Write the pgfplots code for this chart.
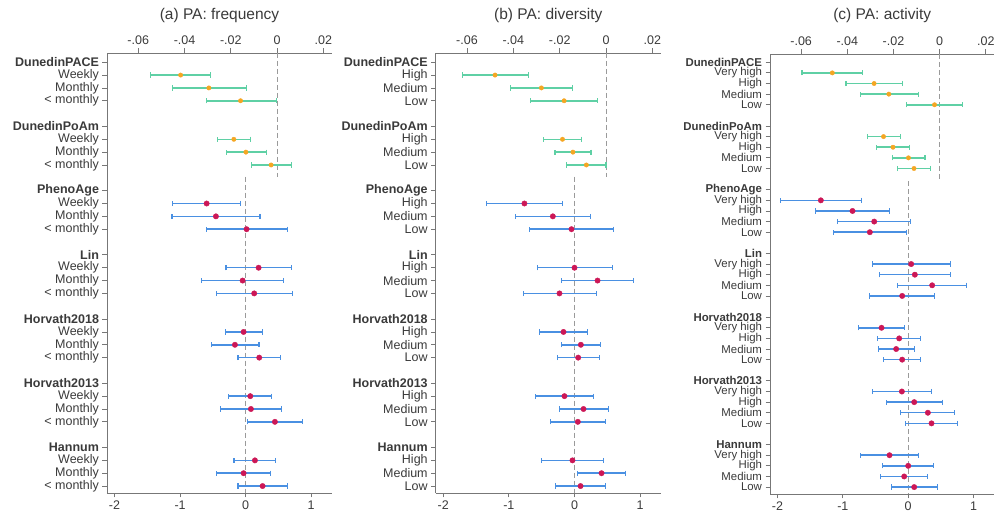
\documentclass[border=0pt]{standalone}
\usepackage{fontspec}
\setmainfont{Liberation Sans}
\usepackage{pgfplots}
\pgfplotsset{compat=1.18}
\usepackage{pgfplotstable}

\definecolor{dgreen}{HTML}{5FD0A5}
\definecolor{dorange}{HTML}{F5A623}
\definecolor{cblue}{HTML}{4A90E2}
\definecolor{ccrim}{HTML}{CC1756}
\definecolor{axgray}{HTML}{777777}
\definecolor{dashgray}{HTML}{9A9A9A}
\definecolor{labgray}{HTML}{3A3A3A}

% panel (a)
\pgfplotstableread{
y m lo hi
-1 -0.0417 -0.0547 -0.0288
-2 -0.0295 -0.0453 -0.0132
-3 -0.0158 -0.0305 -0.0003
-6 -0.0187 -0.0259 -0.0115
-7 -0.0135 -0.0219 -0.0047
-8 -0.0026 -0.0112 0.0062
}\tabAtop
\pgfplotstableread{
y m lo hi
-11 -0.595 -1.113 -0.076
-12 -0.453 -1.123 0.218
-13 0.015 -0.595 0.635
-16 0.198 -0.300 0.701
-17 -0.046 -0.671 0.584
-18 0.131 -0.442 0.711
-21 -0.031 -0.305 0.253
-22 -0.163 -0.524 0.203
-23 0.208 -0.117 0.533
-26 0.071 -0.259 0.396
-27 0.081 -0.381 0.549
-28 0.447 0.030 0.869
-31 0.142 -0.178 0.462
-32 -0.031 -0.442 0.381
-33 0.259 -0.117 0.640
}\tabAbot
% panel (b)
\pgfplotstableread{
y m lo hi
-1 -0.0479 -0.0619 -0.0335
-2 -0.0279 -0.0412 -0.0145
-3 -0.0181 -0.0325 -0.0038
-6 -0.0188 -0.0269 -0.0107
-7 -0.0143 -0.0220 -0.0065
-8 -0.0085 -0.0171 0.0000
}\tabBtop
\pgfplotstableread{
y m lo hi
-11 -0.763 -1.337 -0.183
-12 -0.330 -0.900 0.244
-13 -0.046 -0.681 0.600
-16 0.000 -0.564 0.580
-17 0.351 -0.193 0.900
-18 -0.229 -0.783 0.330
-21 -0.168 -0.534 0.203
-22 0.097 -0.198 0.397
-23 0.056 -0.259 0.376
-26 -0.153 -0.590 0.290
-27 0.137 -0.229 0.513
-28 0.051 -0.366 0.473
-31 -0.031 -0.503 0.442
-32 0.412 0.041 0.773
-33 0.092 -0.285 0.478
}\tabBbot
% panel (c)
\pgfplotstableread{
y m lo hi
-1 -0.0465 -0.0596 -0.0334
-2 -0.0284 -0.0406 -0.0161
-3 -0.0220 -0.0344 -0.0093
-4 -0.0022 -0.0145 0.0100
-7 -0.0243 -0.0314 -0.0171
-8 -0.0202 -0.0274 -0.0131
-9 -0.0135 -0.0205 -0.0063
-10 -0.0111 -0.0182 -0.0039
}\tabCtop
\pgfplotstableread{
y m lo hi
-13 -1.337 -1.954 -0.719
-14 -0.852 -1.418 -0.281
-15 -0.520 -1.082 0.041
-16 -0.587 -1.138 -0.026
-19 0.046 -0.551 0.643
-20 0.102 -0.439 0.648
-21 0.367 -0.163 0.898
-22 -0.092 -0.592 0.403
-25 -0.408 -0.755 -0.051
-26 -0.138 -0.464 0.189
-27 -0.184 -0.459 0.097
-28 -0.092 -0.372 0.194
-31 -0.097 -0.546 0.352
-32 0.092 -0.337 0.531
-33 0.301 -0.112 0.709
-34 0.357 -0.046 0.760
-37 -0.286 -0.724 0.153
-38 0.000 -0.393 0.388
-39 -0.061 -0.423 0.301
-40 0.092 -0.260 0.444
}\tabCbot

\pgfplotsset{
  base/.style={scale only axis, height=440pt, anchor=south west,
    axis line style={draw=axgray, line width=0.8pt},
    tick style={draw=axgray, line width=0.8pt},
    tick align=outside, major tick length=4.5pt,
    scaled x ticks=false, scaled y ticks=false,
    ticklabel style={font=\fontsize{12.5}{13}\selectfont, text=labgray},
    /pgf/number format/assume math mode=true},
  topax/.style={base, xmin=-0.0735, xmax=0.0237,
    axis x line*=top, axis y line=none,
    xtick={-0.06,-0.04,-0.02,0,0.02}, xticklabels={-.06,-.04,-.02,0,.02},
    xtick pos=right, xticklabel pos=right, ytick=\empty},
  botax/.style={base, xmin=-2.115, xmax=1.318,
    axis x line*=bottom, axis y line*=left,
    xtick={-2,-1,0,1}, xticklabels={-2,-1,0,1},
    xtick pos=left, xticklabel pos=left, ytick pos=left, yticklabel pos=left},
  dun/.style={only marks, mark=*, mark size=2.2pt,
    mark options={fill=dorange, draw=dorange},
    error bars/.cd, x dir=both, x explicit,
    error bar style={draw=dgreen, line width=1.5pt},
    error mark=|, error mark options={draw=dgreen, mark size=2.6pt, line width=1.2pt}},
  clk/.style={only marks, mark=*, mark size=2.7pt,
    mark options={fill=ccrim, draw=ccrim},
    error bars/.cd, x dir=both, x explicit,
    error bar style={draw=cblue, line width=1.5pt},
    error mark=|, error mark options={draw=cblue, mark size=2.6pt, line width=1.2pt}},
  zline/.style={draw=dashgray, line width=0.9pt, dash pattern=on 5pt off 3pt},
}

\begin{document}
\begin{tikzpicture}
\path[use as bounding box] (0,0) rectangle (999pt,521pt);

% ---------- panel (a)
\begin{axis}[botax, at={(107pt,28pt)}, width=225pt, ymin=-33.54, ymax=0.72,
  ytick={0,-1,-2,-3,-5,-6,-7,-8,-10,-11,-12,-13,-15,-16,-17,-18,-20,-21,-22,-23,-25,-26,-27,-28,-30,-31,-32,-33},
  yticklabels={\textbf{DunedinPACE},Weekly,Monthly,< monthly,\textbf{DunedinPoAm},Weekly,Monthly,< monthly,\textbf{PhenoAge},Weekly,Monthly,< monthly,\textbf{Lin},Weekly,Monthly,< monthly,\textbf{Horvath2018},Weekly,Monthly,< monthly,\textbf{Horvath2013},Weekly,Monthly,< monthly,\textbf{Hannum},Weekly,Monthly,< monthly}]
\addplot[zline] coordinates {(0,-8.9) (0,-33.54)};
\addplot[clk] table[x=m, y=y, x error plus expr=\thisrow{hi}-\thisrow{m}, x error minus expr=\thisrow{m}-\thisrow{lo}] {\tabAbot};
\end{axis}
\begin{axis}[topax, at={(107pt,28pt)}, width=225pt, ymin=-33.54, ymax=0.72]
\addplot[zline] coordinates {(0,0.72) (0,-8.9)};
\addplot[dun] table[x=m, y=y, x error plus expr=\thisrow{hi}-\thisrow{m}, x error minus expr=\thisrow{m}-\thisrow{lo}] {\tabAtop};
\end{axis}
\node[font=\fontsize{15.5}{16}\selectfont, text=labgray] at (219.5pt,505pt) {(a) PA: frequency};

% ---------- panel (b)
\begin{axis}[botax, at={(435.7pt,28pt)}, width=225.3pt, ymin=-33.54, ymax=0.72,
  ytick={0,-1,-2,-3,-5,-6,-7,-8,-10,-11,-12,-13,-15,-16,-17,-18,-20,-21,-22,-23,-25,-26,-27,-28,-30,-31,-32,-33},
  yticklabels={\textbf{DunedinPACE},High,Medium,Low,\textbf{DunedinPoAm},High,Medium,Low,\textbf{PhenoAge},High,Medium,Low,\textbf{Lin},High,Medium,Low,\textbf{Horvath2018},High,Medium,Low,\textbf{Horvath2013},High,Medium,Low,\textbf{Hannum},High,Medium,Low}]
\addplot[zline] coordinates {(0,-8.9) (0,-33.54)};
\addplot[clk] table[x=m, y=y, x error plus expr=\thisrow{hi}-\thisrow{m}, x error minus expr=\thisrow{m}-\thisrow{lo}] {\tabBbot};
\end{axis}
\begin{axis}[topax, at={(435.7pt,28pt)}, width=225.3pt, ymin=-33.54, ymax=0.72]
\addplot[zline] coordinates {(0,0.72) (0,-8.9)};
\addplot[dun] table[x=m, y=y, x error plus expr=\thisrow{hi}-\thisrow{m}, x error minus expr=\thisrow{m}-\thisrow{lo}] {\tabBtop};
\end{axis}
\node[font=\fontsize{15.5}{16}\selectfont, text=labgray] at (548.3pt,505pt) {(b) PA: diversity};

% ---------- panel (c)
\begin{axis}[botax, at={(770pt,27pt)}, width=224.3pt, ymin=-40.65, ymax=0.78,
  ytick={0,-1,-2,-3,-4,-6,-7,-8,-9,-10,-12,-13,-14,-15,-16,-18,-19,-20,-21,-22,-24,-25,-26,-27,-28,-30,-31,-32,-33,-34,-36,-37,-38,-39,-40},
  yticklabels={\textbf{DunedinPACE},Very high,High,Medium,Low,\textbf{DunedinPoAm},Very high,High,Medium,Low,\textbf{PhenoAge},Very high,High,Medium,Low,\textbf{Lin},Very high,High,Medium,Low,\textbf{Horvath2018},Very high,High,Medium,Low,\textbf{Horvath2013},Very high,High,Medium,Low,\textbf{Hannum},Very high,High,Medium,Low},
  yticklabel style={font=\fontsize{11.4}{11.6}\selectfont, inner ysep=0pt}]
\addplot[zline] coordinates {(0,-11.2) (0,-40.65)};
\addplot[clk] table[x=m, y=y, x error plus expr=\thisrow{hi}-\thisrow{m}, x error minus expr=\thisrow{m}-\thisrow{lo}] {\tabCbot};
\end{axis}
\begin{axis}[topax, at={(770pt,27pt)}, width=224.3pt, ymin=-40.65, ymax=0.78]
\addplot[zline] coordinates {(0,0.78) (0,-11.2)};
\addplot[dun] table[x=m, y=y, x error plus expr=\thisrow{hi}-\thisrow{m}, x error minus expr=\thisrow{m}-\thisrow{lo}] {\tabCtop};
\end{axis}
\node[font=\fontsize{15.5}{16}\selectfont, text=labgray] at (882.2pt,505pt) {(c) PA: activity};
\end{tikzpicture}
\end{document}
